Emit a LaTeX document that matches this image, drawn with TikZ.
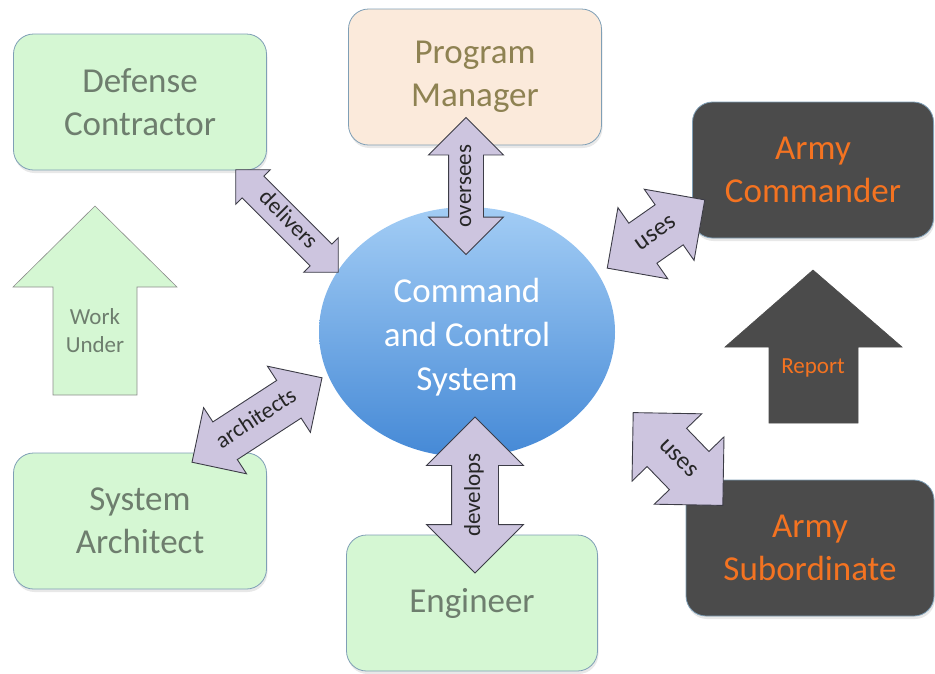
\documentclass[tikz,border=0pt]{standalone}
\usepackage{fontspec}
\setmainfont{Carlito}
\usetikzlibrary{shapes.geometric,shapes.arrows,shadows}

\definecolor{boxgreen}{HTML}{D5F7D3}
\definecolor{boxedge}{HTML}{7F9FB6}
\definecolor{textgreen}{HTML}{6E7E6E}
\definecolor{boxpeach}{HTML}{FBEADB}
\definecolor{textolive}{HTML}{8E8252}
\definecolor{boxdark}{HTML}{4B4B4B}
\definecolor{textorange}{HTML}{F47321}
\definecolor{arrowfill}{HTML}{CDC5DF}
\definecolor{arrowedge}{HTML}{3C3C46}
\definecolor{blobtop}{HTML}{A3CDF5}
\definecolor{blobbottom}{HTML}{4589D6}

\newcommand{\alabel}[1]{\makebox[0pt]{#1}}

\tikzset{
  role/.style={rectangle, rounded corners=20pt, minimum width=253pt, minimum height=136pt,
    align=center, line width=0.8pt, draw=boxedge,
    font=\fontsize{35}{43}\selectfont,
    drop shadow={opacity=0.18, shadow xshift=1pt, shadow yshift=-3pt}},
  greenbox/.style={role, fill=boxgreen, text=textgreen},
  peachbox/.style={role, fill=boxpeach, text=textolive},
  darkbox/.style={role, fill=boxdark, text=textorange},
  system/.style={ellipse, minimum width=296pt, minimum height=250pt, inner sep=0pt,
    top color=blobtop, bottom color=blobbottom, draw=none},
  systemtext/.style={text=white, align=center, font=\fontsize{35}{44}\selectfont},
  dblarrow/.style={double arrow, draw=arrowedge, fill=arrowfill, line width=0.9pt,
    inner xsep=0pt, text height=16pt, text depth=6pt, text=black!85,
    font=\fontsize{23}{23}\selectfont},
  blockup/.style={line width=0.6pt, draw=black!45},
  blocktext/.style={align=center, font=\fontsize{23}{28}\selectfont}
}

\begin{document}
\begin{tikzpicture}[x=1pt,y=-1pt]
\useasboundingbox (0,0) rectangle (935,673);

% the system in the middle
\node[system] (ccs) at (467,332) {};
\node[systemtext] (ccstext) at ([yshift=-5pt]ccs.center) {Command\\and Control\\System};

% the roles round it
\node[greenbox] (dc) at (140,102) {Defense\\Contractor};
\node[peachbox] (pm) at (475,77) {Program\\Manager};
\node[darkbox, minimum width=241pt] (ac) at (813,170) {Army\\Commander};
\node[greenbox] (sa) at (140,521) {System\\Architect};
\node[greenbox, minimum width=251pt] (en) at (472,603) {Engineer};
\node[darkbox, minimum width=248pt] (as) at (810,548) {Army\\Subordinate};

% work under
\draw[blockup, fill=boxgreen] (53,395) -- (53,287) -- (13,287) -- (95,206)
  -- (177,287) -- (137,287) -- (137,395) -- cycle;
\node[blocktext, text=textgreen] (work) at (95,331) {Work\\Under};

% report
\draw[blockup, fill=boxdark, draw=boxdark] (769,423) -- (769,347) -- (725,347) -- (813,270)
  -- (902,347) -- (858,347) -- (858,423) -- cycle;
\node[blocktext, text=textorange] (report) at (813,368) {Report};

% relations
\node[dblarrow, rotate=90, minimum height=137pt, inner ysep=6pt,
  double arrow head extend=20pt] (oversees) at (466,186) {\alabel{oversees}};
\node[dblarrow, rotate=90, minimum height=156pt, inner ysep=12pt,
  double arrow head extend=25pt] (develops) at (475,495) {\alabel{develops}};
\node[dblarrow, rotate=-45, minimum height=145pt, inner ysep=4pt,
  double arrow head extend=9pt] (delivers) at (287,221) {\alabel{delivers}};
\node[dblarrow, rotate=33, minimum height=155pt, inner ysep=11pt,
  double arrow head extend=17pt] (architects) at (257,420) {\alabel{architects}};
\node[dblarrow, rotate=35, minimum height=119pt, inner ysep=13pt,
  double arrow head extend=19pt, font=\fontsize{25}{25}\selectfont] (usesup) at (656,234) {\alabel{uses}};
\node[dblarrow, rotate=-46, minimum height=129pt, inner ysep=16pt,
  double arrow head extend=21pt, font=\fontsize{25}{25}\selectfont] (usesdown) at (678,459) {\alabel{uses}};

\end{tikzpicture}
\end{document}
